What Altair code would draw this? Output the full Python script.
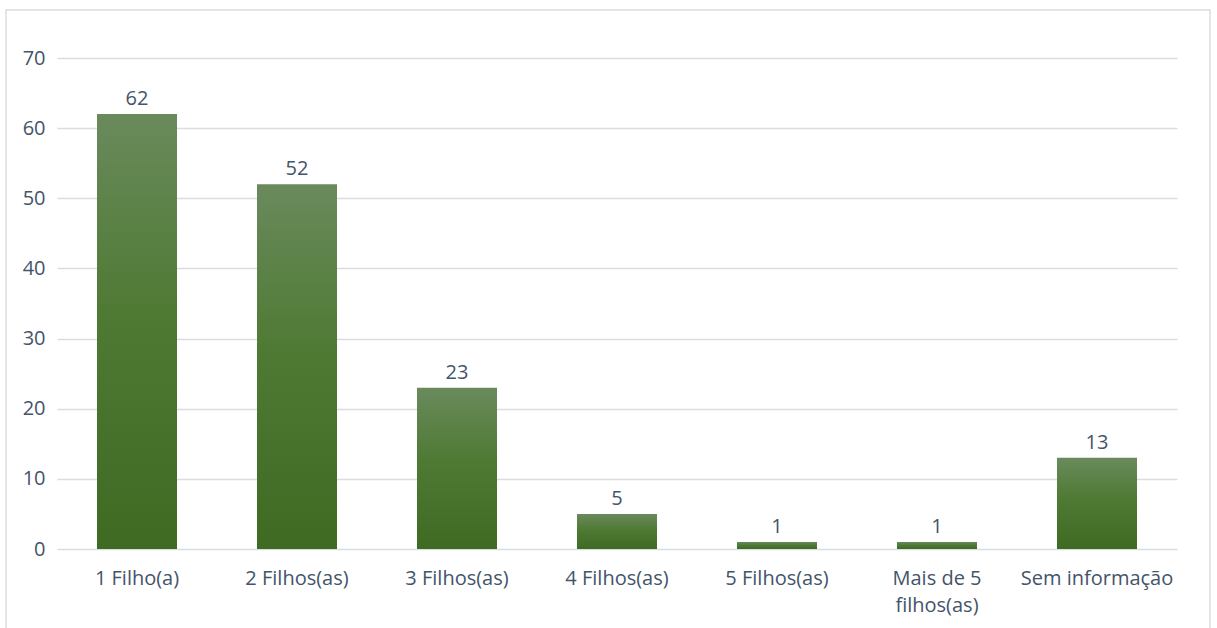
import altair as alt
import pandas as pd

categories = ["1 Filho(a)", "2 Filhos(as)", "3 Filhos(as)", "4 Filhos(as)",
              "5 Filhos(as)", "Mais de 5 filhos(as)", "Sem informação"]
values = [62, 52, 23, 5, 1, 1, 13]
y_ticks = [0, 10, 20, 30, 40, 50, 60, 70]

df = pd.DataFrame({"cat": categories, "val": values})

TEXT = "#44546a"
GRID = "#d9dde3"
FONT = "Open Sans"
FS = 20

W, H = 1120, 491

gradient = alt.Gradient(
    gradient="linear",
    stops=[alt.GradientStop(color="#6a8a5c", offset=0),
           alt.GradientStop(color="#4f7a34", offset=0.45),
           alt.GradientStop(color="#3e6a22", offset=1)],
    x1=0, x2=0, y1=0, y2=1,
)

x_enc = alt.X("cat:N", sort=categories, title=None,
              scale=alt.Scale(paddingInner=0.5, paddingOuter=0.25),
              axis=alt.Axis(labelAngle=0, domain=False, ticks=False, grid=False,
                            labelFont=FONT, labelFontSize=FS, labelColor=TEXT,
                            labelPadding=19, labelLimit=300, labelLineHeight=27,
                            labelExpr="datum.label == 'Mais de 5 filhos(as)' ? ['Mais de 5', 'filhos(as)'] : datum.label"))
y_enc = alt.Y("val:Q", title=None,
              scale=alt.Scale(domain=[0, 70], nice=False),
              axis=alt.Axis(values=y_ticks, domain=False, ticks=False,
                            labelFont=FONT, labelFontSize=FS, labelColor=TEXT,
                            labelPadding=12, grid=True, gridColor=GRID, gridWidth=1.5))

base = alt.Chart(df)

border = alt.Chart(pd.DataFrame({"a": [0]})).mark_rect(
    fill=None, stroke="#d9dde3", strokeWidth=1.5
).encode(x=alt.value(-51), x2=alt.value(W + 33), y=alt.value(-48), y2=alt.value(H + 100))

bars = base.mark_bar(color=gradient).encode(x=x_enc, y=y_enc)

labels = base.mark_text(dy=-15, font=FONT, fontSize=FS, color=TEXT).encode(
    x=alt.X("cat:N", sort=categories),
    y="val:Q",
    text="val:Q",
)

chart = alt.layer(border, bars, labels).properties(
    width=W, height=H,
    autosize=alt.AutoSizeParams(type="none"),
    padding={"left": 57, "top": 58, "right": 40, "bottom": 79},
).configure(background="white").configure_view(stroke=None)

chart.save("out.html", embed_options={"renderer": "svg", "actions": False})
